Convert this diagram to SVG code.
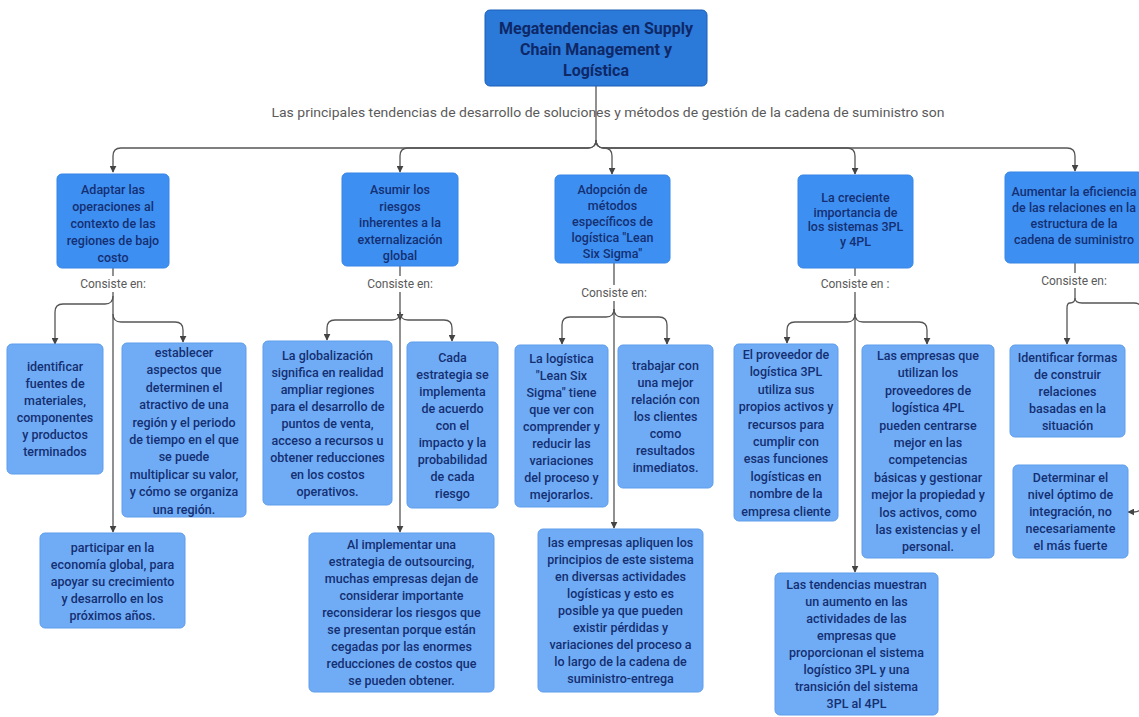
<svg xmlns="http://www.w3.org/2000/svg" width="1139" height="717" viewBox="0 0 1139 717">
  <defs>
    <marker id="arrow" viewBox="0 0 10 10" refX="9" refY="5" markerWidth="7" markerHeight="7" markerUnits="userSpaceOnUse" orient="auto">
      <path d="M0,0 L10,5 L0,10 Z" fill="#444"/>
    </marker>
    <style>
      .title { fill: #2b79d9; stroke: #1d5fb8; stroke-width: 1; }
      .head { fill: #3e8ff2; stroke: #3585e6; stroke-width: 1; }
      .leaf { fill: #70acf5; stroke: #5f9deb; stroke-width: 1; }
      .t { font-family: Roboto, "Liberation Sans", sans-serif; font-size: 12.5px; font-weight: 500; fill: #142f72; text-anchor: middle; }
      .tt { font-family: Roboto, "Liberation Sans", sans-serif; font-size: 16px; font-weight: 700; fill: #0e2867; text-anchor: middle; }
      .lbl { font-family: Roboto, "Liberation Sans", sans-serif; font-size: 12px; fill: #5a5a5a; text-anchor: middle; }
      .lblbg { fill: #ffffff; }
      .conn { fill: none; stroke: #555; stroke-width: 1.3; }
    </style>
  </defs>

  <rect width="1139" height="717" fill="#ffffff"/>

  <!-- connectors -->
  <g id="connectors">
    <!-- root to main categories -->
    <path class="conn" d="M596,86 V140"/>
    <path class="conn" d="M596,140 Q596,148 588,148 H121 Q113,148 113,156 V172" marker-end="url(#arrow)"/>
    <path class="conn" d="M596,140 Q596,148 588,148 H408 Q400,148 400,156 V172" marker-end="url(#arrow)"/>
    <path class="conn" d="M596,140 Q596,148 604,148 Q612,148 612,156 V174" marker-end="url(#arrow)"/>
    <path class="conn" d="M596,140 Q596,148 604,148 H847 Q855,148 855,156 V174" marker-end="url(#arrow)"/>
    <path class="conn" d="M596,140 Q596,148 604,148 H1067 Q1075,148 1075,156 V171" marker-end="url(#arrow)"/>

    <!-- column 1 -->
    <path class="conn" d="M113,268 V532" marker-end="url(#arrow)"/>
    <path class="conn" d="M113,296 Q113,304 105,304 H63 Q55,304 55,312 V344" marker-end="url(#arrow)"/>
    <path class="conn" d="M113,314 Q113,322 121,322 H175 Q183,322 183,330 V342" marker-end="url(#arrow)"/>

    <!-- column 2 -->
    <path class="conn" d="M400,266 V320" marker-end="url(#arrow)"/>
    <path class="conn" d="M400,320 V532" marker-end="url(#arrow)"/>
    <path class="conn" d="M400,312 Q400,320 392,320 H335 Q327,320 327,328 V340" marker-end="url(#arrow)"/>
    <path class="conn" d="M400,312 Q400,320 408,320 H444 Q452,320 452,328 V341" marker-end="url(#arrow)"/>

    <!-- column 3 -->
    <path class="conn" d="M614,263 V528" marker-end="url(#arrow)"/>
    <path class="conn" d="M614,309 Q614,317 606,317 H570 Q562,317 562,325 V344" marker-end="url(#arrow)"/>
    <path class="conn" d="M614,309 Q614,317 622,317 H659 Q667,317 667,325 V344" marker-end="url(#arrow)"/>

    <!-- column 4 -->
    <path class="conn" d="M855,268 V572" marker-end="url(#arrow)"/>
    <path class="conn" d="M855,314 Q855,322 847,322 H795 Q787,322 787,330 V343" marker-end="url(#arrow)"/>
    <path class="conn" d="M855,314 Q855,322 863,322 H919 Q927,322 927,330 V344" marker-end="url(#arrow)"/>

    <!-- column 5 -->
    <path class="conn" d="M1075,263 V298"/>
    <path class="conn" d="M1075,298 Q1075,303 1070,303 Q1067,303 1067,308 V344" marker-end="url(#arrow)"/>
    <path class="conn" d="M1075,298 Q1075,303 1082,303 H1134 Q1142,303 1142,311 V504 Q1142,512 1134,512 L1128,512" marker-end="url(#arrow)"/>
  </g>

  <!-- root -->
  <g id="root">
    <rect class="title" x="485" y="10" width="222" height="76" rx="5"/>
    <text class="tt"><tspan x="596" y="34">Megatendencias en Supply</tspan><tspan x="596" y="55">Chain Management y</tspan><tspan x="596" y="76">Logística</tspan></text>
  </g>

  <g id="root-label">
    <text class="lbl" x="608" y="117" textLength="673" lengthAdjust="spacingAndGlyphs">Las principales tendencias de desarrollo de soluciones y métodos de gestión de la cadena de suministro son</text>
  </g>

  <!-- column 1 -->
  <g id="cat1">
    <rect class="head" x="57" y="174" width="112" height="94" rx="5"/>
    <text class="t"><tspan x="113" y="194">Adaptar las</tspan><tspan x="113" y="211">operaciones al</tspan><tspan x="113" y="228">contexto de las</tspan><tspan x="113" y="245">regiones de bajo</tspan><tspan x="113" y="262">costo</tspan></text>
  </g>
  <g id="cat1-label">
    <rect class="lblbg" x="76" y="276" width="74" height="16"/>
    <text class="lbl" x="113" y="288">Consiste en:</text>
  </g>
  <g id="n1a">
    <rect class="leaf" x="7" y="344" width="96" height="130" rx="5"/>
    <text class="t"><tspan x="55" y="371">identificar</tspan><tspan x="55" y="388">fuentes de</tspan><tspan x="55" y="405">materiales,</tspan><tspan x="55" y="422">componentes</tspan><tspan x="55" y="439">y productos</tspan><tspan x="55" y="456">terminados</tspan></text>
  </g>
  <g id="n1b">
    <rect class="leaf" x="122" y="343" width="124" height="174" rx="5"/>
    <text class="t"><tspan x="184" y="357">establecer</tspan><tspan x="184" y="374.4">aspectos que</tspan><tspan x="184" y="391.8">determinen el</tspan><tspan x="184" y="409.2">atractivo de una</tspan><tspan x="184" y="426.6">región y el periodo</tspan><tspan x="184" y="444">de tiempo en el que</tspan><tspan x="184" y="461.4">se puede</tspan><tspan x="184" y="478.8">multiplicar su valor,</tspan><tspan x="184" y="496.2">y cómo se organiza</tspan><tspan x="184" y="513.6">una región.</tspan></text>
  </g>
  <g id="n1c">
    <rect class="leaf" x="40" y="533" width="145" height="95" rx="5"/>
    <text class="t"><tspan x="112.5" y="552">participar en la</tspan><tspan x="112.5" y="569">economía global, para</tspan><tspan x="112.5" y="586">apoyar su crecimiento</tspan><tspan x="112.5" y="603">y desarrollo en los</tspan><tspan x="112.5" y="620">próximos años.</tspan></text>
  </g>

  <!-- column 2 -->
  <g id="cat2">
    <rect class="head" x="342" y="173" width="116" height="93" rx="5"/>
    <text class="t"><tspan x="400" y="194">Asumir los</tspan><tspan x="400" y="210.5">riesgos</tspan><tspan x="400" y="227">inherentes a la</tspan><tspan x="400" y="243.5">externalización</tspan><tspan x="400" y="260">global</tspan></text>
  </g>
  <g id="cat2-label">
    <rect class="lblbg" x="363" y="276" width="74" height="16"/>
    <text class="lbl" x="400" y="288">Consiste en:</text>
  </g>
  <g id="n2a">
    <rect class="leaf" x="263" y="341" width="129" height="164" rx="5"/>
    <text class="t"><tspan x="327.5" y="359.5">La globalización</tspan><tspan x="327.5" y="376.5">significa en realidad</tspan><tspan x="327.5" y="393.5">ampliar regiones</tspan><tspan x="327.5" y="410.5">para el desarrollo de</tspan><tspan x="327.5" y="427.5">puntos de venta,</tspan><tspan x="327.5" y="444.5">acceso a recursos u</tspan><tspan x="327.5" y="461.5">obtener reducciones</tspan><tspan x="327.5" y="478.5">en los costos</tspan><tspan x="327.5" y="495.5">operativos.</tspan></text>
  </g>
  <g id="n2b">
    <rect class="leaf" x="407" y="342" width="91" height="166" rx="5"/>
    <text class="t"><tspan x="452.5" y="361.5">Cada</tspan><tspan x="452.5" y="378.5">estrategia se</tspan><tspan x="452.5" y="395.5">implementa</tspan><tspan x="452.5" y="412.5">de acuerdo</tspan><tspan x="452.5" y="429.5">con el</tspan><tspan x="452.5" y="446.5">impacto y la</tspan><tspan x="452.5" y="463.5">probabilidad</tspan><tspan x="452.5" y="480.5">de cada</tspan><tspan x="452.5" y="497.5">riesgo</tspan></text>
  </g>
  <g id="n2c">
    <rect class="leaf" x="309" y="533" width="185" height="159" rx="5"/>
    <text class="t"><tspan x="401.5" y="549">Al implementar una</tspan><tspan x="401.5" y="566">estrategia de outsourcing,</tspan><tspan x="401.5" y="583">muchas empresas dejan de</tspan><tspan x="401.5" y="600">considerar importante</tspan><tspan x="401.5" y="617">reconsiderar los riesgos que</tspan><tspan x="401.5" y="634">se presentan porque están</tspan><tspan x="401.5" y="651">cegadas por las enormes</tspan><tspan x="401.5" y="668">reducciones de costos que</tspan><tspan x="401.5" y="685">se pueden obtener.</tspan></text>
  </g>

  <!-- column 3 -->
  <g id="cat3">
    <rect class="head" x="555" y="175" width="115" height="88" rx="5"/>
    <text class="t"><tspan x="612.5" y="194">Adopción de</tspan><tspan x="612.5" y="210">métodos</tspan><tspan x="612.5" y="226">específicos de</tspan><tspan x="612.5" y="242">logística "Lean</tspan><tspan x="612.5" y="258">Six Sigma"</tspan></text>
  </g>
  <g id="cat3-label">
    <rect class="lblbg" x="577" y="285" width="74" height="16"/>
    <text class="lbl" x="614" y="297">Consiste en:</text>
  </g>
  <g id="n3a">
    <rect class="leaf" x="515" y="345" width="93" height="162" rx="5"/>
    <text class="t"><tspan x="561.5" y="362.5">La logística</tspan><tspan x="561.5" y="379.5">"Lean Six</tspan><tspan x="561.5" y="396.5">Sigma" tiene</tspan><tspan x="561.5" y="413.5">que ver con</tspan><tspan x="561.5" y="430.5">comprender y</tspan><tspan x="561.5" y="447.5">reducir las</tspan><tspan x="561.5" y="464.5">variaciones</tspan><tspan x="561.5" y="481.5">del proceso y</tspan><tspan x="561.5" y="498.5">mejorarlos.</tspan></text>
  </g>
  <g id="n3b">
    <rect class="leaf" x="618" y="345" width="95" height="143" rx="5"/>
    <text class="t"><tspan x="665.5" y="370">trabajar con</tspan><tspan x="665.5" y="387">una mejor</tspan><tspan x="665.5" y="404">relación con</tspan><tspan x="665.5" y="421">los clientes</tspan><tspan x="665.5" y="438">como</tspan><tspan x="665.5" y="455">resultados</tspan><tspan x="665.5" y="472">inmediatos.</tspan></text>
  </g>
  <g id="n3c">
    <rect class="leaf" x="538" y="529" width="165" height="163" rx="5"/>
    <text class="t"><tspan x="620.5" y="547">las empresas apliquen los</tspan><tspan x="620.5" y="564">principios de este sistema</tspan><tspan x="620.5" y="581">en diversas actividades</tspan><tspan x="620.5" y="598">logísticas y esto es</tspan><tspan x="620.5" y="615">posible ya que pueden</tspan><tspan x="620.5" y="632">existir pérdidas y</tspan><tspan x="620.5" y="649">variaciones del proceso a</tspan><tspan x="620.5" y="666">lo largo de la cadena de</tspan><tspan x="620.5" y="683">suministro-entrega</tspan></text>
  </g>

  <!-- column 4 -->
  <g id="cat4">
    <rect class="head" x="798" y="175" width="115" height="93" rx="5"/>
    <text class="t"><tspan x="855.5" y="202">La creciente</tspan><tspan x="855.5" y="216.5">importancia de</tspan><tspan x="855.5" y="231">los sistemas 3PL</tspan><tspan x="855.5" y="245.5">y 4PL</tspan></text>
  </g>
  <g id="cat4-label">
    <rect class="lblbg" x="816" y="276" width="78" height="16"/>
    <text class="lbl" x="855" y="288">Consiste en :</text>
  </g>
  <g id="n4a">
    <rect class="leaf" x="734" y="344" width="104" height="177" rx="5"/>
    <text class="t"><tspan x="786" y="359">El proveedor de</tspan><tspan x="786" y="376.4">logística 3PL</tspan><tspan x="786" y="393.8">utiliza sus</tspan><tspan x="786" y="411.2">propios activos y</tspan><tspan x="786" y="428.6">recursos para</tspan><tspan x="786" y="446">cumplir con</tspan><tspan x="786" y="463.4">esas funciones</tspan><tspan x="786" y="480.8">logísticas en</tspan><tspan x="786" y="498.2">nombre de la</tspan><tspan x="786" y="515.6">empresa cliente</tspan></text>
  </g>
  <g id="n4b">
    <rect class="leaf" x="862" y="345" width="132" height="213" rx="5"/>
    <text class="t"><tspan x="928" y="360">Las empresas que</tspan><tspan x="928" y="377.4">utilizan los</tspan><tspan x="928" y="394.8">proveedores de</tspan><tspan x="928" y="412.2">logística 4PL</tspan><tspan x="928" y="429.6">pueden centrarse</tspan><tspan x="928" y="447">mejor en las</tspan><tspan x="928" y="464.4">competencias</tspan><tspan x="928" y="481.8">básicas y gestionar</tspan><tspan x="928" y="499.2">mejor la propiedad y</tspan><tspan x="928" y="516.6">los activos, como</tspan><tspan x="928" y="534">las existencias y el</tspan><tspan x="928" y="551.4">personal.</tspan></text>
  </g>
  <g id="n4c">
    <rect class="leaf" x="775" y="573" width="163" height="142" rx="5"/>
    <text class="t"><tspan x="856.5" y="589">Las tendencias muestran</tspan><tspan x="856.5" y="606">un aumento en las</tspan><tspan x="856.5" y="623">actividades de las</tspan><tspan x="856.5" y="640">empresas que</tspan><tspan x="856.5" y="657">proporcionan el sistema</tspan><tspan x="856.5" y="674">logístico 3PL y una</tspan><tspan x="856.5" y="691">transición del sistema</tspan><tspan x="856.5" y="708">3PL al 4PL</tspan></text>
  </g>

  <!-- column 5 -->
  <g id="cat5">
    <rect class="head" x="1005" y="172" width="138" height="91" rx="5"/>
    <text class="t"><tspan x="1074" y="196">Aumentar la eficiencia</tspan><tspan x="1074" y="212">de las relaciones en la</tspan><tspan x="1074" y="228">estructura de la</tspan><tspan x="1074" y="244">cadena de suministro</tspan></text>
  </g>
  <g id="cat5-label">
    <rect class="lblbg" x="1038" y="273" width="72" height="15"/>
    <text class="lbl" x="1074" y="285">Consiste en:</text>
  </g>
  <g id="n5a">
    <rect class="leaf" x="1010" y="345" width="115" height="92" rx="5"/>
    <text class="t"><tspan x="1067.5" y="361.5">Identificar formas</tspan><tspan x="1067.5" y="378.5">de construir</tspan><tspan x="1067.5" y="395.5">relaciones</tspan><tspan x="1067.5" y="412.5">basadas en la</tspan><tspan x="1067.5" y="429.5">situación</tspan></text>
  </g>
  <g id="n5b">
    <rect class="leaf" x="1013" y="465" width="115" height="93" rx="5"/>
    <text class="t"><tspan x="1070.5" y="482">Determinar el</tspan><tspan x="1070.5" y="499">nivel óptimo de</tspan><tspan x="1070.5" y="516">integración, no</tspan><tspan x="1070.5" y="533">necesariamente</tspan><tspan x="1070.5" y="550">el más fuerte</tspan></text>
  </g>
</svg>
